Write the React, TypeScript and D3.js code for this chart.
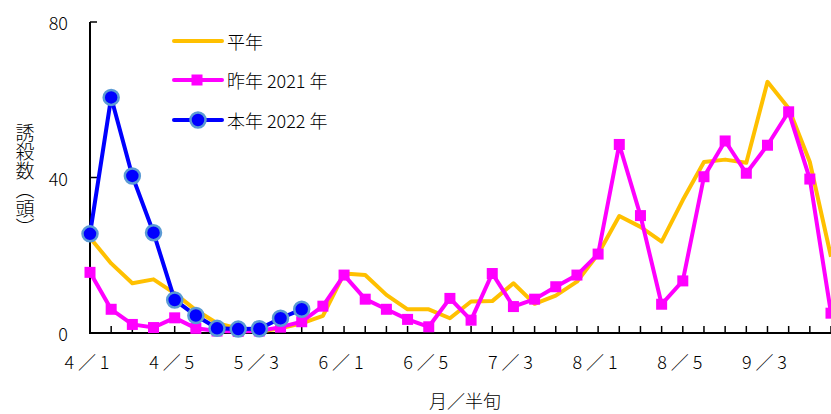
import { useEffect, useRef } from 'react'
import * as d3 from 'd3'

// 半旬 (4/1 .. 9/6)
const periods = [
  '4/1', '4/2', '4/3', '4/4', '4/5', '4/6',
  '5/1', '5/2', '5/3', '5/4', '5/5', '5/6',
  '6/1', '6/2', '6/3', '6/4', '6/5', '6/6',
  '7/1', '7/2', '7/3', '7/4', '7/5', '7/6',
  '8/1', '8/2', '8/3', '8/4', '8/5', '8/6',
  '9/1', '9/2', '9/3', '9/4', '9/5', '9/6',
]

const tickLabels = ['4/1', '4/5', '5/3', '6/1', '6/5', '7/3', '8/1', '8/5', '9/3']

// 平年
const heinen = [
  24.5, 17.9, 12.8, 13.8, 10.2, 5.9, 2.5, 1.2, 0.3, 1.2, 2.5, 4.4,
  15.3, 14.9, 9.8, 6.1, 6.1, 3.8, 8.1, 8.2, 12.8, 7.5, 9.6, 13.2,
  20.3, 30.1, 27.3, 23.5, 34.2, 44.0, 44.6, 43.8, 64.6, 57.8, 44.0, 19.6,
]

// 昨年 2021年
const sakunen = [
  15.6, 6.1, 2.2, 1.4, 3.9, 1.2, 0.5, 0.4, 0.5, 1.5, 2.9, 6.9,
  14.9, 8.7, 6.1, 3.5, 1.6, 8.9, 3.3, 15.3, 6.8, 8.7, 11.9, 14.9,
  20.3, 48.5, 30.2, 7.4, 13.4, 40.2, 49.4, 41.1, 48.3, 56.9, 39.6, 5.1,
]

// 本年 2022年
const honnen = [25.5, 60.6, 40.4, 25.8, 8.5, 4.5, 1.2, 1.0, 1.1, 3.8, 6.1]

const yTicks = [0, 40, 80]

const FONT = '"Noto Sans CJK JP", "Noto Sans", sans-serif'
const YELLOW = '#ffc000'
const MAGENTA = '#ff00ff'
const BLUE = '#0000ff'
const HALO = '#5b9bd5'

export default () => {
  const rootRef = useRef<SVGSVGElement>(null)

  useEffect(() => {
    const width = 831,
      height = 414

    const svg = d3.select(rootRef.current).attr('width', width).attr('height', height)
    svg.selectAll('*').remove()

    const x = d3.scalePoint<string>().domain(periods).range([90, 831])
    const y = d3.scaleLinear().domain([0, 80]).range([333, 22])

    const g = svg.append('g')

    // axes
    g.append('line')
      .attr('x1', 90).attr('x2', 90)
      .attr('y1', y(80)).attr('y2', y(0))
      .attr('stroke', '#000').attr('stroke-width', 2)
    g.append('line')
      .attr('x1', 89).attr('x2', 831)
      .attr('y1', y(0)).attr('y2', y(0))
      .attr('stroke', '#000').attr('stroke-width', 2)

    g.selectAll('.ytick')
      .data(yTicks)
      .join('line')
      .attr('x1', 90).attr('x2', 97)
      .attr('y1', (d) => y(d)).attr('y2', (d) => y(d))
      .attr('stroke', '#000').attr('stroke-width', 1.5)

    g.selectAll('.ylab')
      .data(yTicks)
      .join('text')
      .attr('x', 68)
      .attr('y', (d) => y(d))
      .attr('text-anchor', 'end')
      .attr('dominant-baseline', 'central')
      .attr('font-family', FONT)
      .attr('font-weight', 300)
      .attr('font-size', 18)
      .attr('fill', '#000')
      .text((d) => d)

    g.selectAll('.xtick')
      .data(periods)
      .join('line')
      .attr('x1', (d) => x(d)!).attr('x2', (d) => x(d)!)
      .attr('y1', y(0) - 7).attr('y2', y(0))
      .attr('stroke', '#000').attr('stroke-width', 1.5)

    g.selectAll('.xlab')
      .data(tickLabels)
      .join('text')
      .attr('x', (d) => x(d)! - 3)
      .attr('y', 361)
      .attr('text-anchor', 'middle')
      .attr('dominant-baseline', 'central')
      .attr('font-family', FONT)
      .attr('font-weight', 300)
      .attr('font-size', 18)
      .attr('fill', '#000')
      .attr('textLength', 45)
      .attr('lengthAdjust', 'spacing')
      .text((d) => d.replace('/', '／'))

    // axis titles
    g.append('text')
      .attr('x', 465).attr('y', 400)
      .attr('text-anchor', 'middle')
      .attr('dominant-baseline', 'central')
      .attr('font-family', FONT)
      .attr('font-weight', 300)
      .attr('font-size', 18)
      .text('月／半旬')

    g.append('text')
      .attr('x', 25)
      .attr('y', 123)
      .attr('font-family', FONT)
      .attr('font-weight', 300)
      .attr('font-size', 19)
      .style('writing-mode', 'vertical-rl')
      .text('誘殺数（頭）')

    const line = d3
      .line<number>()
      .x((_, i) => x(periods[i])!)
      .y((d) => y(d))

    // 平年
    g.append('path')
      .datum(heinen)
      .attr('fill', 'none')
      .attr('stroke', YELLOW)
      .attr('stroke-width', 4)
      .attr('stroke-linejoin', 'round')
      .attr('d', line)

    // 昨年
    g.append('path')
      .datum(sakunen)
      .attr('fill', 'none')
      .attr('stroke', MAGENTA)
      .attr('stroke-width', 4)
      .attr('d', line)
    g.selectAll('.sq')
      .data(sakunen)
      .join('rect')
      .attr('x', (_, i) => x(periods[i])! - 5.5)
      .attr('y', (d) => y(d) - 5.5)
      .attr('width', 11)
      .attr('height', 11)
      .attr('fill', MAGENTA)

    // 本年
    g.append('path')
      .datum(honnen)
      .attr('fill', 'none')
      .attr('stroke', BLUE)
      .attr('stroke-width', 4)
      .attr('d', line)
    g.selectAll('.dot')
      .data(honnen)
      .join('circle')
      .attr('cx', (_, i) => x(periods[i])!)
      .attr('cy', (d) => y(d))
      .attr('r', 7.5)
      .attr('fill', BLUE)
      .attr('stroke', HALO)
      .attr('stroke-width', 2.5)

    // legend
    const legend = [
      { label: '平年', color: YELLOW, marker: 'none', y: 41 },
      { label: '昨年 2021 年', color: MAGENTA, marker: 'square', y: 80 },
      { label: '本年 2022 年', color: BLUE, marker: 'circle', y: 120 },
    ]
    const lg = g.selectAll('.lg').data(legend).join('g')
    lg.append('line')
      .attr('x1', 174).attr('x2', 222)
      .attr('y1', (d) => d.y).attr('y2', (d) => d.y)
      .attr('stroke', (d) => d.color)
      .attr('stroke-width', 4)
      .attr('stroke-linecap', 'round')
    lg.filter((d) => d.marker === 'square')
      .append('rect')
      .attr('x', 197 - 5.5).attr('y', (d) => d.y - 5.5)
      .attr('width', 11).attr('height', 11)
      .attr('fill', MAGENTA)
    lg.filter((d) => d.marker === 'circle')
      .append('circle')
      .attr('cx', 198).attr('cy', (d) => d.y)
      .attr('r', 7.5)
      .attr('fill', BLUE)
      .attr('stroke', HALO)
      .attr('stroke-width', 2.5)
    lg.append('text')
      .attr('x', 227)
      .attr('y', (d) => d.y)
      .attr('dominant-baseline', 'central')
      .attr('font-family', FONT)
      .attr('font-weight', 300)
      .attr('font-size', 18)
      .text((d) => d.label)
  }, [])

  return <svg ref={rootRef} style={{ position: 'absolute', left: 0, top: 0, display: 'block' }}></svg>
}
